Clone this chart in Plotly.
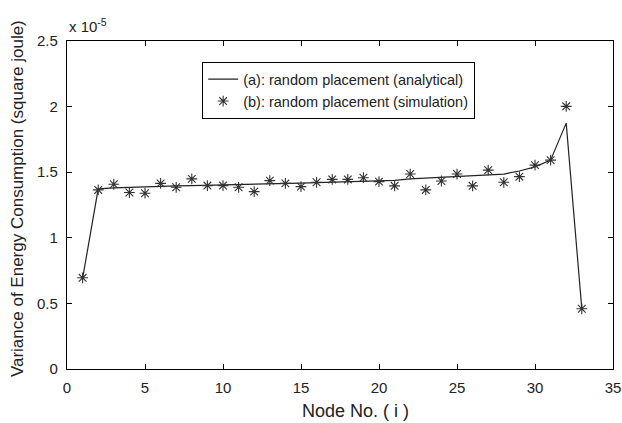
import plotly.graph_objects as go

nodes = list(range(1, 34))
# values in units of 1e-5 square joule
analytical = [0.69, 1.373, 1.38, 1.385, 1.39, 1.393, 1.396, 1.398, 1.40, 1.403, 1.405,
              1.408, 1.411, 1.414, 1.417, 1.420, 1.423, 1.426, 1.429, 1.432, 1.438, 1.449,
              1.455, 1.462, 1.468, 1.475, 1.480, 1.486, 1.509, 1.541, 1.592, 1.874, 0.459]
simulation = [0.695, 1.365, 1.408, 1.345, 1.340, 1.415, 1.385, 1.449, 1.398, 1.398, 1.385,
              1.352, 1.436, 1.415, 1.390, 1.423, 1.445, 1.445, 1.458, 1.428, 1.396, 1.486,
              1.365, 1.433, 1.486, 1.396, 1.516, 1.423, 1.466, 1.554, 1.592, 2.002, 0.459]

x_ticks = [0, 5, 10, 15, 20, 25, 30, 35]
y_ticks = [0, 0.5, 1, 1.5, 2, 2.5]
y_tick_labels = ["0", "0.5", "1", "1.5", "2", "2.5"]

font = "Liberation Sans, Arial, sans-serif"

fig = go.Figure()
fig.add_trace(go.Scatter(
    x=nodes, y=analytical, mode="lines",
    name="(a): random placement (analytical)",
    line=dict(color="#222222", width=1.2),
))
fig.add_trace(go.Scatter(
    x=nodes, y=simulation, mode="markers",
    name="(b): random placement (simulation)",
    marker=dict(symbol="asterisk-open", size=9, color="#333333",
                line=dict(color="#333333", width=1.1)),
))

axis_common = dict(
    showline=True, linecolor="black", linewidth=1.3, mirror="ticks",
    ticks="inside", ticklen=5, tickcolor="black", showgrid=False, zeroline=False,
    automargin=False,
    tickfont=dict(family=font, size=15, color="#222222"),
)

fig.update_layout(
    width=622, height=423,
    margin=dict(l=67, r=9, t=41, b=54, autoexpand=False),
    paper_bgcolor="white", plot_bgcolor="white",
    font=dict(family=font, color="#222222"),
    xaxis=dict(range=[0, 35], tickvals=x_ticks, ticklabelstandoff=5, **axis_common),
    yaxis=dict(range=[0, 2.5], tickvals=y_ticks, ticktext=y_tick_labels,
               ticklabelstandoff=5, **axis_common),
    legend=dict(x=0.247, y=0.936, xanchor="left", yanchor="top",
                bgcolor="white", bordercolor="black", borderwidth=1.3,
                font=dict(family=font, size=14.5, color="#222222"),
                tracegroupgap=0, itemwidth=30),
    showlegend=True,
    annotations=[
        dict(text="x 10<sup>-5</sup>", xref="paper", yref="paper",
             x=0.0, y=1.0, xanchor="left", yanchor="bottom", showarrow=False,
             yshift=4, font=dict(family=font, size=15, color="#222222")),
        dict(text="Node No. ( i )", xref="paper", yref="paper",
             x=0.5275, y=-0.128, xanchor="center", yanchor="middle", showarrow=False,
             font=dict(family=font, size=18, color="#222222")),
        dict(text="Variance of Energy Consumption (square joule)", xref="paper", yref="paper",
             x=-0.0916, y=0.521, xanchor="center", yanchor="middle", showarrow=False,
             textangle=-90, font=dict(family=font, size=17, color="#222222")),
    ],
)

fig.write_html("out.html", config={"displayModeBar": False},
               post_script="document.body.style.margin='0px';")
